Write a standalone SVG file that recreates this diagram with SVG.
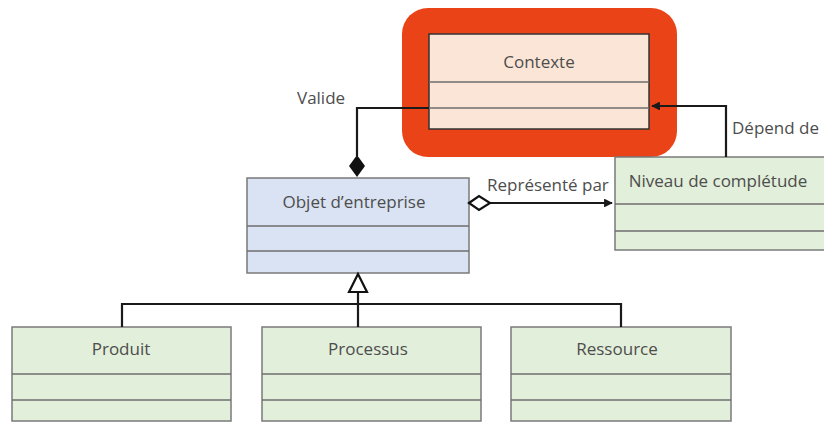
<svg xmlns="http://www.w3.org/2000/svg" width="824" height="423" viewBox="0 0 824 423">
<defs>
<style>
.box{stroke:#7a7a7a;stroke-width:1.5}
.div{stroke:#6e6e6e;stroke-width:1.5}
.lbl{font-family:"Open Sans","Liberation Sans",sans-serif;font-size:17px;fill:#4d4d4d;text-anchor:middle}
.cl{font-family:"Open Sans","Liberation Sans",sans-serif;font-size:17px;fill:#4d4d4d}
.ln{stroke:#1a1a1a;stroke-width:2.2;fill:none}
</style>
<marker id="arr" viewBox="0 0 10 10" refX="9" refY="5" markerWidth="4" markerHeight="4" orient="auto"><path d="M0,0 L10,5 L0,10 z" fill="#1a1a1a"/></marker>
</defs>
<rect x="0" y="0" width="824" height="423" fill="#fff"/>
<g id="contexte">
<rect x="402" y="8" width="275" height="149" rx="26" fill="#EA4318"/>
<rect x="429" y="34" width="220" height="95" fill="#FBE5D6" stroke="#333" stroke-width="1.5"/>
<line x1="429" y1="82" x2="649" y2="82" class="div"/>
<line x1="429" y1="108" x2="649" y2="108" class="div"/>
<text x="539" y="68" class="lbl">Contexte</text>
</g>
<g id="objet">
<rect x="247" y="178" width="222" height="95" fill="#DAE3F3" class="box"/>
<line x1="247" y1="226" x2="469" y2="226" class="div"/>
<line x1="247" y1="251" x2="469" y2="251" class="div"/>
<text x="354" y="208" class="lbl">Objet d’entreprise</text>
</g>
<g id="niveau">
<rect x="615" y="157" width="220" height="93" fill="#E2EFDA" class="box"/>
<line x1="615" y1="204" x2="835" y2="204" class="div"/>
<line x1="615" y1="231" x2="835" y2="231" class="div"/>
<text x="718" y="187" class="lbl">Niveau de complétude</text>
</g>
<g id="produit">
<rect x="12" y="327" width="219" height="94" fill="#E2EFDA" class="box"/>
<line x1="12" y1="374" x2="231" y2="374" class="div"/>
<line x1="12" y1="400" x2="231" y2="400" class="div"/>
<text x="121" y="355" class="lbl">Produit</text>
</g>
<g id="processus">
<rect x="262" y="327" width="219" height="94" fill="#E2EFDA" class="box"/>
<line x1="262" y1="374" x2="481" y2="374" class="div"/>
<line x1="262" y1="400" x2="481" y2="400" class="div"/>
<text x="368" y="355" class="lbl">Processus</text>
</g>
<g id="ressource">
<rect x="511" y="327" width="220" height="94" fill="#E2EFDA" class="box"/>
<line x1="511" y1="374" x2="731" y2="374" class="div"/>
<line x1="511" y1="400" x2="731" y2="400" class="div"/>
<text x="617" y="355" class="lbl">Ressource</text>
</g>
<g id="connectors">
<polyline points="429,108 357,108 357,156" class="ln"/>
<polygon points="357,155 365,166 357,177 349,166" fill="#111"/>
<text x="297" y="104" class="cl">Valide</text>
<line x1="490" y1="203" x2="612" y2="203" class="ln" marker-end="url(#arr)"/>
<polygon points="469,203 479,196 490,203 479,210" fill="#fff" stroke="#111" stroke-width="2.2"/>
<text x="487" y="191" class="cl">Représenté par</text>
<polyline points="726,157 726,106 652,106" class="ln" marker-end="url(#arr)"/>
<text x="732" y="134" class="cl">Dépend de</text>
<polyline points="122,327 122,304 621,304 621,327" class="ln"/>
<line x1="358" y1="327" x2="358" y2="292" class="ln"/>
<polygon points="358,274 367,292 349,292" fill="#fff" stroke="#111" stroke-width="2.2"/>
</g>
</svg>
